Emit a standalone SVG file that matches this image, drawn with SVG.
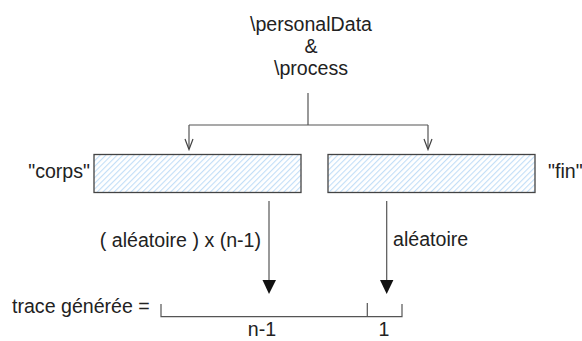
<svg xmlns="http://www.w3.org/2000/svg" width="582" height="341" viewBox="0 0 582 341">
<style>
text{font-family:"Liberation Sans",Arial,sans-serif;font-size:19.6px;fill:#222}
.ln{stroke:#555;stroke-width:1.2;fill:none}
.open{stroke:#444;stroke-width:1.2;fill:none}
.head{fill:#111}
.box{fill:url(#hatch);stroke:#444;stroke-width:1.3}
</style>
<defs>
<pattern id="hatch" width="4" height="4" patternUnits="userSpaceOnUse" patternTransform="rotate(45)">
<rect width="4" height="4" fill="#fff"/>
<rect width="1.1" height="4" fill="#c2def7"/>
</pattern>
</defs>
<g id="source">
<text x="311" y="31" text-anchor="middle">\personalData</text>
<text x="311" y="53" text-anchor="middle">&amp;</text>
<text x="311" y="75" text-anchor="middle">\process</text>
</g>
<g id="corps">
<rect class="box" x="94" y="154.5" width="207" height="38"/>
<text x="90" y="178" text-anchor="end">"corps"</text>
</g>
<g id="fin">
<rect class="box" x="328" y="154.5" width="207" height="38"/>
<text x="548" y="178">"fin"</text>
</g>
<g id="trace">
<text x="12" y="313">trace générée =</text>
<path class="ln" d="M161,304 V316.7 H402 V304 M367.3,303 V316.7"/>
<text x="262" y="336" text-anchor="middle">n-1</text>
<text x="384" y="336" text-anchor="middle">1</text>
</g>
<g id="connectors">
<path class="ln" d="M308,93 V125 M189,125 H428 M189,125 V149 M428,125 V149"/>
<path class="open" d="M185,139 L189,149.5 L193,139 M424,139 L428,149.5 L432,139"/>
<path class="ln" d="M269,201 V282"/>
<path class="head" d="M262.5,280 L276,280 L269,294 Z"/>
<path class="ln" d="M386.7,201 V282"/>
<path class="head" d="M380,280 L393.4,280 L386.7,294 Z"/>
<text x="261" y="246.5" text-anchor="end">( aléatoire ) x (n-1)</text>
<text x="393" y="246">aléatoire</text>
</g>
</svg>
